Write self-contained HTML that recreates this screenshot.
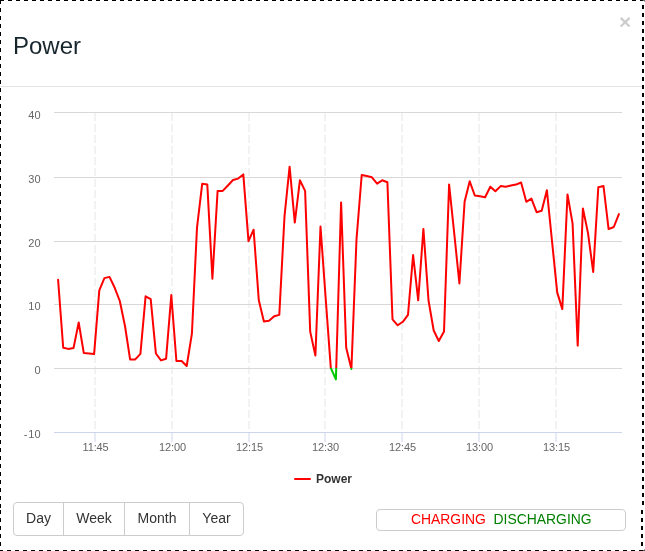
<!DOCTYPE html>
<html><head><meta charset="utf-8">
<style>
html,body{margin:0;padding:0;background:#fff;width:645px;height:551px;overflow:hidden;position:relative;font-family:"Liberation Sans",sans-serif;}
.wrap{position:absolute;left:0;top:0;width:645px;height:551px;will-change:transform;}
.frame{position:absolute;left:0;top:0;width:641px;height:549px;border:1px dashed #000;}
.title{position:absolute;left:13px;top:31px;font-size:24px;line-height:30px;color:#17252d;margin:0;font-weight:normal;}
.close{position:absolute;left:619px;top:7px;font-size:21px;font-weight:bold;line-height:30px;color:#000;opacity:.2;}
.sep{position:absolute;left:0;top:86px;width:642px;height:1px;background:#e5e5e5;}
.chart{position:absolute;left:0;top:0;}
.yl,.xl{font-family:"Liberation Sans",sans-serif;font-size:11px;fill:#666666;}
.lg{font-family:"Liberation Sans",sans-serif;font-size:12px;font-weight:bold;fill:#333333;}
.btns{position:absolute;left:13px;top:502px;height:34px;display:flex;}
.btn{box-sizing:border-box;height:34px;padding:5px 0 7px;text-align:center;font-size:14px;line-height:20px;color:#333;border:1px solid #ccc;background:#fff;margin-left:-1px;white-space:nowrap;}
.btn:first-child{margin-left:0;border-radius:4px 0 0 4px;}
.btn:last-child{border-radius:0 4px 4px 0;}
.status{position:absolute;left:376px;top:509px;width:250px;height:22px;box-sizing:border-box;border:1px solid #ccc;border-radius:4px;font-size:14px;line-height:20px;white-space:pre;}
.stxt{position:absolute;left:34px;top:-1px;font-size:13.9px;}
.ch{color:#ff0000;}
.dis{color:#008000;}
</style></head><body><div class="wrap">
<div class="title">Power</div>
<div class="close">&times;</div>
<div class="sep"></div>
<svg class="chart" width="645" height="551">
<defs><clipPath id="cpos"><rect x="0" y="0" width="645" height="368"/></clipPath><clipPath id="cneg"><rect x="0" y="368" width="645" height="200"/></clipPath></defs>
<path d="M95.00 113 L95.00 432" stroke="#e6e6e6" stroke-width="1" stroke-dasharray="8,3" fill="none"/>
<path d="M172.00 113 L172.00 432" stroke="#e6e6e6" stroke-width="1" stroke-dasharray="8,3" fill="none"/>
<path d="M249.00 113 L249.00 432" stroke="#e6e6e6" stroke-width="1" stroke-dasharray="8,3" fill="none"/>
<path d="M325.00 113 L325.00 432" stroke="#e6e6e6" stroke-width="1" stroke-dasharray="8,3" fill="none"/>
<path d="M402.00 113 L402.00 432" stroke="#e6e6e6" stroke-width="1" stroke-dasharray="8,3" fill="none"/>
<path d="M479.00 113 L479.00 432" stroke="#e6e6e6" stroke-width="1" stroke-dasharray="8,3" fill="none"/>
<path d="M556.00 113 L556.00 432" stroke="#e6e6e6" stroke-width="1" stroke-dasharray="8,3" fill="none"/>
<path d="M54 112.5 L622 112.5" stroke="#d8d8d8" stroke-width="1" fill="none"/>
<path d="M54 177.5 L622 177.5" stroke="#d8d8d8" stroke-width="1" fill="none"/>
<path d="M54 241.5 L622 241.5" stroke="#d8d8d8" stroke-width="1" fill="none"/>
<path d="M54 304.5 L622 304.5" stroke="#d8d8d8" stroke-width="1" fill="none"/>
<path d="M54 368.5 L622 368.5" stroke="#d8d8d8" stroke-width="1" fill="none"/>
<path d="M54 432.5 L622 432.5" stroke="#ccd6eb" stroke-width="1" fill="none"/>
<path d="M95.00 433 L95.00 442" stroke="#ccd6eb" stroke-width="1" fill="none"/>
<path d="M172.00 433 L172.00 442" stroke="#ccd6eb" stroke-width="1" fill="none"/>
<path d="M249.00 433 L249.00 442" stroke="#ccd6eb" stroke-width="1" fill="none"/>
<path d="M325.00 433 L325.00 442" stroke="#ccd6eb" stroke-width="1" fill="none"/>
<path d="M402.00 433 L402.00 442" stroke="#ccd6eb" stroke-width="1" fill="none"/>
<path d="M479.00 433 L479.00 442" stroke="#ccd6eb" stroke-width="1" fill="none"/>
<path d="M556.00 433 L556.00 442" stroke="#ccd6eb" stroke-width="1" fill="none"/>
<text x="40.6" y="119" text-anchor="end" class="yl">40</text>
<text x="40.6" y="183" text-anchor="end" class="yl">30</text>
<text x="40.6" y="247" text-anchor="end" class="yl">20</text>
<text x="40.6" y="310" text-anchor="end" class="yl">10</text>
<text x="40.6" y="374" text-anchor="end" class="yl">0</text>
<text x="40.6" y="438" text-anchor="end" class="yl">10</text>
<text x="23.8" y="438" class="yl">-</text>
<text x="95.50" y="451" text-anchor="middle" class="xl" letter-spacing="-0.15">11:45</text>
<text x="172.50" y="451" text-anchor="middle" class="xl" letter-spacing="-0.15">12:00</text>
<text x="249.50" y="451" text-anchor="middle" class="xl" letter-spacing="-0.15">12:15</text>
<text x="325.50" y="451" text-anchor="middle" class="xl" letter-spacing="-0.15">12:30</text>
<text x="402.50" y="451" text-anchor="middle" class="xl" letter-spacing="-0.15">12:45</text>
<text x="479.50" y="451" text-anchor="middle" class="xl" letter-spacing="-0.15">13:00</text>
<text x="556.50" y="451" text-anchor="middle" class="xl" letter-spacing="-0.15">13:15</text>
<g clip-path="url(#cpos)"><path d="M58.1 279.7 L63.2 347.7 L68.4 348.9 L73.5 348.1 L78.7 322.5 L83.8 353.1 L89.0 353.5 L94.1 354.1 L99.3 290.4 L104.4 278.1 L109.5 276.9 L114.7 287.8 L119.8 301.0 L125.0 326.0 L130.1 359.4 L135.3 359.4 L140.4 353.9 L145.6 296.3 L150.7 299.2 L155.9 353.5 L161.0 360.4 L166.1 358.7 L171.3 295.1 L176.4 361.0 L181.6 361.0 L186.7 366.0 L191.9 333.7 L197.0 227.6 L202.2 183.8 L207.3 184.6 L212.4 278.8 L217.6 190.9 L222.7 190.9 L227.9 185.5 L233.0 180.0 L238.2 178.6 L243.3 174.4 L248.5 241.2 L253.6 229.7 L258.8 300.3 L263.9 321.5 L269.0 320.7 L274.2 316.3 L279.3 314.9 L284.5 216.4 L289.6 166.7 L294.8 222.6 L299.9 180.3 L305.1 190.9 L310.2 331.6 L315.4 355.6 L320.5 226.6 L325.6 297.3 L330.8 368.0 L335.9 379.4 L341.1 202.4 L346.2 347.8 L351.4 369.0 L356.5 239.3 L361.7 175.0 L366.8 176.1 L371.9 177.3 L377.1 183.6 L382.2 180.3 L387.4 182.2 L392.5 319.3 L397.7 325.3 L402.8 321.8 L408.0 314.9 L413.1 255.0 L418.2 300.3 L423.4 228.9 L428.5 300.3 L433.7 330.5 L438.8 341.0 L444.0 331.6 L449.1 184.4 L454.3 234.0 L459.4 283.5 L464.6 201.8 L469.7 181.3 L474.8 195.5 L480.0 196.3 L485.1 197.2 L490.3 186.7 L495.4 191.3 L500.6 186.1 L505.7 186.7 L510.9 185.5 L516.0 184.6 L521.1 182.5 L526.3 201.8 L531.4 198.6 L536.6 212.2 L541.7 210.7 L546.9 190.3 L552.0 241.0 L557.2 292.4 L562.3 309.1 L567.5 194.4 L572.6 223.7 L577.7 345.6 L582.9 208.4 L588.0 233.1 L593.2 271.9 L598.3 187.3 L603.5 186.0 L608.6 229.1 L613.8 227.0 L618.9 214.1" stroke="#ff0000" stroke-width="2" fill="none" stroke-linejoin="round" stroke-linecap="round"/></g>
<g clip-path="url(#cneg)"><path d="M58.1 279.7 L63.2 347.7 L68.4 348.9 L73.5 348.1 L78.7 322.5 L83.8 353.1 L89.0 353.5 L94.1 354.1 L99.3 290.4 L104.4 278.1 L109.5 276.9 L114.7 287.8 L119.8 301.0 L125.0 326.0 L130.1 359.4 L135.3 359.4 L140.4 353.9 L145.6 296.3 L150.7 299.2 L155.9 353.5 L161.0 360.4 L166.1 358.7 L171.3 295.1 L176.4 361.0 L181.6 361.0 L186.7 366.0 L191.9 333.7 L197.0 227.6 L202.2 183.8 L207.3 184.6 L212.4 278.8 L217.6 190.9 L222.7 190.9 L227.9 185.5 L233.0 180.0 L238.2 178.6 L243.3 174.4 L248.5 241.2 L253.6 229.7 L258.8 300.3 L263.9 321.5 L269.0 320.7 L274.2 316.3 L279.3 314.9 L284.5 216.4 L289.6 166.7 L294.8 222.6 L299.9 180.3 L305.1 190.9 L310.2 331.6 L315.4 355.6 L320.5 226.6 L325.6 297.3 L330.8 368.0 L335.9 379.4 L341.1 202.4 L346.2 347.8 L351.4 369.0 L356.5 239.3 L361.7 175.0 L366.8 176.1 L371.9 177.3 L377.1 183.6 L382.2 180.3 L387.4 182.2 L392.5 319.3 L397.7 325.3 L402.8 321.8 L408.0 314.9 L413.1 255.0 L418.2 300.3 L423.4 228.9 L428.5 300.3 L433.7 330.5 L438.8 341.0 L444.0 331.6 L449.1 184.4 L454.3 234.0 L459.4 283.5 L464.6 201.8 L469.7 181.3 L474.8 195.5 L480.0 196.3 L485.1 197.2 L490.3 186.7 L495.4 191.3 L500.6 186.1 L505.7 186.7 L510.9 185.5 L516.0 184.6 L521.1 182.5 L526.3 201.8 L531.4 198.6 L536.6 212.2 L541.7 210.7 L546.9 190.3 L552.0 241.0 L557.2 292.4 L562.3 309.1 L567.5 194.4 L572.6 223.7 L577.7 345.6 L582.9 208.4 L588.0 233.1 L593.2 271.9 L598.3 187.3 L603.5 186.0 L608.6 229.1 L613.8 227.0 L618.9 214.1" stroke="#00c800" stroke-width="2" fill="none" stroke-linejoin="round" stroke-linecap="round"/></g>
<path d="M295 479 L310 479" stroke="#ff0000" stroke-width="2" stroke-linecap="round" fill="none"/>
<text x="316" y="483" class="lg">Power</text>
<path d="M0 0.5 H645" stroke="#000" stroke-width="1" stroke-dasharray="4,4" fill="none"/>
<path d="M0 550.5 H645" stroke="#000" stroke-width="1" stroke-dasharray="4,4" fill="none" stroke-dashoffset="1"/>
<path d="M0.5 0 V508" stroke="#000" stroke-width="1" stroke-dasharray="4,4" fill="none"/>
<path d="M0.5 508 V551" stroke="#000" stroke-width="1" stroke-dasharray="4,4" fill="none" stroke-dashoffset="6"/>
<path d="M643 0 V508" stroke="#000" stroke-width="2" stroke-dasharray="4,4" fill="none" stroke-dashoffset="3"/>
<path d="M642 508 V551" stroke="#000" stroke-width="2" stroke-dasharray="4,4" fill="none" stroke-dashoffset="6"/>
<rect x="643" y="0" width="2" height="1" fill="#707070"/><rect x="644" y="1" width="1" height="1" fill="#a8a8a8"/>
<rect x="643" y="550" width="2" height="1" fill="#606060"/><rect x="644" y="549" width="1" height="1" fill="#a8a8a8"/>
</svg>
<div class="btns"><span class="btn" style="width:51px">Day</span><span class="btn" style="width:62px">Week</span><span class="btn" style="width:66px">Month</span><span class="btn" style="width:55px">Year</span></div>
<div class="status"><span class="stxt"><span class="ch">CHARGING</span>  <span class="dis">DISCHARGING</span></span></div>
</div></body></html>
